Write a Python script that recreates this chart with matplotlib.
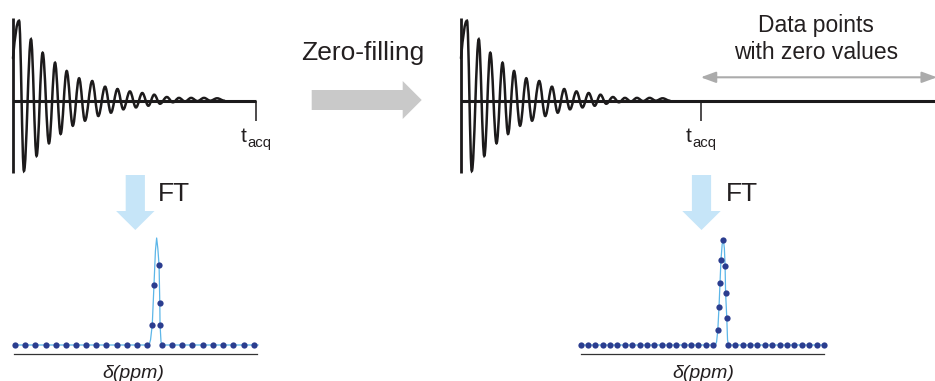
import matplotlib
matplotlib.use("Agg")
import matplotlib.pyplot as plt
from matplotlib.path import Path
from matplotlib.patches import PathPatch, Polygon, FancyArrowPatch

plt.rcParams['font.family'] = ['Liberation Sans', 'DejaVu Sans']

W, H = 935, 381

# ---------------- data ----------------
# FID extrema: time as fraction of t_acq, amplitude normalised to first maximum
FID_T = [0.000, 0.025, 0.045, 0.074, 0.097, 0.122, 0.148, 0.173, 0.196, 0.221,
         0.246, 0.272, 0.296, 0.326, 0.351, 0.379, 0.403, 0.430, 0.454, 0.481,
         0.506, 0.532, 0.557, 0.581, 0.605, 0.633, 0.658, 0.683, 0.708, 0.733,
         0.759, 0.786, 0.812, 0.840, 0.870]
FID_A = [0.53, 1.000, -0.878, 0.768, -0.690, 0.600, -0.533, 0.475, -0.416, 0.371,
         -0.313, 0.280, -0.250, 0.246, -0.191, 0.175, -0.150, 0.146, -0.108, 0.116,
         -0.084, 0.096, -0.063, 0.075, -0.038, 0.046, -0.020, 0.035, -0.010, 0.035,
         -0.005, 0.035, 0.000, 0.030, 0.000]
T_ACQ = 1.0
T_ZERO_FILLED = 2.0

# spectra: frequency as fraction of the delta axis, intensity normalised
LEFT_DOT_F = [0.004, 0.046, 0.088, 0.130, 0.171, 0.213, 0.255, 0.297, 0.339, 0.380,
              0.422, 0.464, 0.506, 0.548, 0.569, 0.576, 0.597, 0.600, 0.601, 0.610,
              0.650, 0.693, 0.734, 0.777, 0.818, 0.860, 0.902, 0.945, 0.988]
LEFT_DOT_I = [0, 0, 0, 0, 0, 0, 0, 0, 0, 0,
              0, 0, 0, 0, 0.19, 0.56, 0.745, 0.39, 0.19, 0,
              0, 0, 0, 0, 0, 0, 0, 0, 0]
LEFT_LINE_F = [0.0, 0.556, 0.562, 0.569, 0.576, 0.582, 0.587, 0.592, 0.597, 0.600,
               0.601, 0.605, 0.610, 1.004]
LEFT_LINE_I = [0, 0, 0.05, 0.19, 0.56, 0.88, 1.0, 0.90, 0.745, 0.39,
               0.19, 0.03, 0, 0]

RIGHT_DOT_F = [-0.001, 0.029, 0.059, 0.090, 0.120, 0.150, 0.180, 0.211, 0.241, 0.271,
               0.301, 0.332, 0.362, 0.392, 0.422, 0.453, 0.483, 0.513, 0.543, 0.563,
               0.568, 0.572, 0.576, 0.586, 0.593, 0.595, 0.600, 0.605, 0.635, 0.666,
               0.696, 0.726, 0.757, 0.787, 0.818, 0.848, 0.878, 0.909, 0.939, 0.970,
               1.000]
RIGHT_DOT_I = [0, 0, 0, 0, 0, 0, 0, 0, 0, 0,
               0, 0, 0, 0, 0, 0, 0, 0, 0, 0.143,
               0.365, 0.588, 0.81, 1.0, 0.752, 0.5, 0.254, 0, 0, 0,
               0, 0, 0, 0, 0, 0, 0, 0, 0, 0,
               0]
RIGHT_LINE_F = [0.0, 0.553, 0.558, 0.563, 0.568, 0.572, 0.576, 0.581, 0.586, 0.590,
                0.593, 0.595, 0.600, 0.603, 0.607, 1.003]
RIGHT_LINE_I = [0, 0, 0.03, 0.143, 0.365, 0.588, 0.81, 0.96, 1.0, 0.92,
                0.752, 0.5, 0.254, 0.05, 0, 0]

TXT_ZF = "Zero-filling"
TXT_FT = "FT"
TXT_ZEROS = ["Data points", "with zero values"]
TXT_AXIS = "δ(ppm)"
TXT_T = "t"
TXT_SUB = "acq"

# ---------------- styles ----------------
INK = '#231f20'
FID_COLOR = '#1c1a1b'
DOT_COLOR = '#2b3d8f'
LINE_COLOR = '#5cb6e8'
FT_ARROW = '#c6e5f8'
ZF_ARROW = '#c9c9c9'
DBL_ARROW = '#ababab'

fig = plt.figure(figsize=(W / 100, H / 100), dpi=100)


def px_axes(x0, y_top, x1, y_bot, z=2):
    ax = fig.add_axes([x0 / W, 1 - y_bot / H, (x1 - x0) / W, (y_bot - y_top) / H])
    ax.set_xlim(0, 1)
    ax.set_ylim(0, 1)
    ax.set_zorder(z)
    ax.patch.set_visible(False)
    return ax


def fid_path(ts, amps):
    verts = [(ts[0], amps[0])]
    codes = [Path.MOVETO]
    for i in range(1, len(ts)):
        t0, a0 = ts[i - 1], amps[i - 1]
        t1, a1 = ts[i], amps[i]
        dt = t1 - t0
        if i == 1:
            c1 = (t0 + dt * 0.33, a0 + (a1 - a0) * 0.6)
        else:
            c1 = (t0 + dt * 0.3642, a0)
        c2 = (t1 - dt * 0.3642, a1)
        verts += [c1, c2, (t1, a1)]
        codes += [Path.CURVE4] * 3
    return Path(verts, codes)


def draw_fid(ax, t_end):
    ax.set_axis_off()
    ax.add_patch(PathPatch(fid_path(FID_T, FID_A), fill=False, lw=1.8,
                           edgecolor=FID_COLOR, clip_on=False, capstyle='round'))
    ax.plot([0, t_end], [0, 0], color=FID_COLOR, lw=2.2, clip_on=False,
            solid_capstyle='butt')
    ax.plot([0, 0], [-0.904, 1.034], color=FID_COLOR, lw=2.0, clip_on=False,
            solid_capstyle='butt')
    ax.plot([T_ACQ, T_ACQ], [0, -0.26], color=FID_COLOR, lw=1.1, clip_on=False,
            solid_capstyle='butt')
    ax.text(0.938, -0.5125, TXT_T, fontsize=15, color=INK, ha='left', va='baseline')
    ax.text(0.963, -0.58, TXT_SUB, fontsize=10.7, color=INK, ha='left', va='baseline')


def draw_spec(ax, df, di, lf, li, label_f):
    for s in ['top', 'left', 'right']:
        ax.spines[s].set_visible(False)
    ax.spines['bottom'].set_position(('outward', 9 * 0.72))
    ax.spines['bottom'].set_linewidth(0.9)
    ax.spines['bottom'].set_color('#333333')
    ax.set_xticks([])
    ax.set_yticks([])
    ax.plot(lf, li, color=LINE_COLOR, lw=0.9, clip_on=False, zorder=2)
    ax.plot(df, di, 'o', ms=4.5, color=DOT_COLOR, mec='none', clip_on=False, zorder=3)
    ax.text(label_f, -0.19, TXT_AXIS, fontsize=14, style='italic', color=INK,
            ha='center', va='top')


# overlay for arrows and labels (pixel coordinates)
ov = fig.add_axes([0, 0, 1, 1])
ov.set_xlim(0, W)
ov.set_ylim(H, 0)
ov.set_axis_off()
ov.set_zorder(1)

ov.add_patch(Polygon([(311.7, 90), (402.7, 90), (402.7, 81), (421.7, 100),
                      (402.7, 119), (402.7, 110), (311.7, 110)],
                     closed=True, facecolor=ZF_ARROW, edgecolor='none'))
for cx in (135.3, 701.5):
    ov.add_patch(Polygon([(cx - 9.6, 175), (cx + 9.6, 175), (cx + 9.6, 211),
                          (cx + 19.2, 211), (cx, 230), (cx - 19.2, 211),
                          (cx - 9.6, 211)],
                         closed=True, facecolor=FT_ARROW, edgecolor='none'))

ov.text(363, 60, TXT_ZF, fontsize=19, color=INK, ha='center', va='baseline')
ov.text(158.3, 200.7, TXT_FT, fontsize=19, color=INK, ha='left', va='baseline')
ov.text(725.7, 200.7, TXT_FT, fontsize=19, color=INK, ha='left', va='baseline')
ov.text(816, 31.7, TXT_ZEROS[0], fontsize=16.5, color=INK, ha='center', va='baseline')
ov.text(816, 59.3, TXT_ZEROS[1], fontsize=16.5, color=INK, ha='center', va='baseline')

ov.add_patch(FancyArrowPatch((700.7, 77.3), (937, 77.3),
                             arrowstyle='<|-|>,head_length=9,head_width=3.3',
                             color=DBL_ARROW, lw=1.5, mutation_scale=1,
                             shrinkA=0, shrinkB=0))

# FIDs
ax_fid_l = px_axes(13, 20.7, 256, 100.7)
draw_fid(ax_fid_l, T_ACQ)
ax_fid_r = px_axes(461, 20.7, 701, 100.7)
draw_fid(ax_fid_r, T_ZERO_FILLED)

# spectra
ax_sp_l = px_axes(14, 238, 257, 345)
draw_spec(ax_sp_l, LEFT_DOT_F, LEFT_DOT_I, LEFT_LINE_F, LEFT_LINE_I, 0.49)
ax_sp_r = px_axes(581, 240, 824, 345)
draw_spec(ax_sp_r, RIGHT_DOT_F, RIGHT_DOT_I, RIGHT_LINE_F, RIGHT_LINE_I, 0.502)

fig.savefig("out.png", dpi=100)
